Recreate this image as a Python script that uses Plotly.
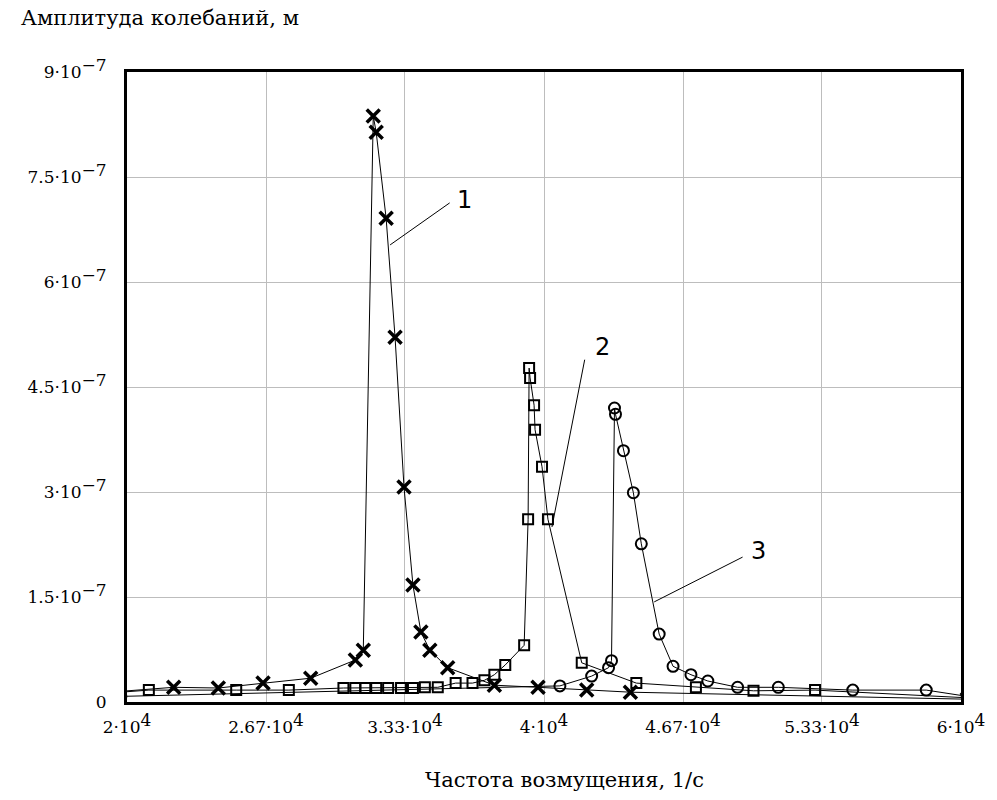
import plotly.graph_objects as go

# Frequency, 1/s, and oscillation amplitude (in units of 1e-7 m) for three cases
freq_1 = [19600, 22238, 24381, 26524, 28810, 30952, 31333, 31810, 31952, 32429, 32857,
          33286, 33714, 34095, 34524, 35381, 37619, 39714, 42048, 44143, 60300]
amp_1 = [0.15, 0.21, 0.20, 0.27, 0.34, 0.60, 0.74, 8.37, 8.14, 6.91, 5.21,
         3.07, 1.67, 1.00, 0.74, 0.49, 0.24, 0.21, 0.17, 0.14, 0.04]

freq_2 = [19700, 21048, 25238, 27762, 30381, 30952, 31429, 31952, 32524, 33143, 33714,
          34286, 34905, 35762, 36571, 37143, 37619, 38143, 39048, 39238, 39286, 39333,
          39524, 39571, 39905, 40190, 41810, 44429, 47286, 50048, 53000, 60300]
amp_2 = [0.14, 0.17, 0.17, 0.17, 0.20, 0.20, 0.20, 0.20, 0.20, 0.20, 0.20,
         0.21, 0.21, 0.27, 0.27, 0.31, 0.39, 0.53, 0.81, 2.61, 4.77, 4.63,
         4.24, 3.89, 3.36, 2.61, 0.56, 0.27, 0.21, 0.16, 0.17, 0.06]

freq_3 = [19700, 40762, 42286, 43095, 43238, 43381, 43429, 43810,
          44286, 44667, 45524, 46190, 47048, 47857, 49286, 51238, 54810, 58333, 60300]
amp_3 = [0.08, 0.23, 0.37, 0.49, 0.59, 4.20, 4.11, 3.59,
         2.99, 2.26, 0.97, 0.51, 0.39, 0.30, 0.21, 0.21, 0.17, 0.17, 0.08]

# Curve labels and their leader lines (frequency, amplitude in 1e-7 m)
label_text = ["1", "2", "3"]
label_freq = [36190, 42810, 50286]
label_amp = [7.17, 5.07, 2.16]
leader_freq = [[35476, 32619], [41952, 40381], [49524, 45286]]
leader_amp = [[7.13, 6.53], [4.89, 2.50], [2.07, 1.43]]

# Axis ticks: mantissa and power of ten for each label
x_ticks = [20000, 26667, 33333, 40000, 46667, 53333, 60000]
x_mant = ["2", "2.67", "3.33", "4", "4.67", "5.33", "6"]
x_pow = ["4"] * 7
y_ticks = [0, 1.5, 3, 4.5, 6, 7.5, 9]
y_mant = ["0", "1.5", "3", "4.5", "6", "7.5", "9"]
y_pow = [None, "−7", "−7", "−7", "−7", "−7", "−7"]

SCALE = 1e-7
FONT = "DejaVu Serif"
TICK_SIZE = 17


def sci_label(m, p):
    if p is None:
        return m
    return f'{m}·10<sup><span style="font-size:{TICK_SIZE}px">{p}</span></sup>'


x_tick_text = [sci_label(m, p) for m, p in zip(x_mant, x_pow)]
y_tick_text = [sci_label(m, p) for m, p in zip(y_mant, y_pow)]

fig = go.Figure()

series = [
    (freq_1, amp_1, dict(symbol="x-thin", size=13, line=dict(width=3.5, color="black"))),
    (freq_2, amp_2, dict(symbol="square-open", size=10, line=dict(width=2, color="black"))),
    (freq_3, amp_3, dict(symbol="circle-open", size=11, line=dict(width=2, color="black"))),
]
for fx, ay, mk in series:
    fig.add_trace(go.Scatter(
        x=fx, y=[a * SCALE for a in ay], mode="lines+markers",
        line=dict(color="black", width=1), marker=dict(color="black", **mk),
        showlegend=False, cliponaxis=True,
    ))

for lf, la in zip(leader_freq, leader_amp):
    fig.add_trace(go.Scatter(
        x=lf, y=[a * SCALE for a in la], mode="lines",
        line=dict(color="black", width=1), showlegend=False,
    ))

for t, lf, la in zip(label_text, label_freq, label_amp):
    fig.add_annotation(x=lf, y=la * SCALE, text=t, showarrow=False,
                       font=dict(family="DejaVu Sans", size=24, color="black"))

fig.add_annotation(xref="paper", yref="paper", x=-0.13, y=1.086, xanchor="left",
                   yanchor="middle", text="Амплитуда колебаний, м", showarrow=False,
                   font=dict(family=FONT, size=21, color="black"))
fig.add_annotation(xref="paper", yref="paper", x=0.524, y=-0.124, xanchor="center",
                   yanchor="middle", text="Частота возмущения, 1/с", showarrow=False,
                   font=dict(family=FONT, size=21, color="black"))

fig.update_xaxes(range=[20000, 60000], tickvals=x_ticks, ticktext=x_tick_text,
                 showgrid=True, gridcolor="#bdbdbd", gridwidth=1,
                 showline=True, linecolor="black", linewidth=3, mirror=True,
                 ticks="", zeroline=False, ticklabelstandoff=8,
                 tickfont=dict(family=FONT, size=TICK_SIZE, color="black"))
fig.update_yaxes(range=[0, 9 * SCALE], tickvals=[v * SCALE for v in y_ticks], ticktext=y_tick_text,
                 showgrid=True, gridcolor="#bdbdbd", gridwidth=1,
                 showline=True, linecolor="black", linewidth=3, mirror=True,
                 ticks="", zeroline=False, ticklabelstandoff=14,
                 tickfont=dict(family=FONT, size=TICK_SIZE, color="black"))

fig.update_layout(width=997, height=800, margin=dict(l=127, r=30, t=72, b=98),
                  plot_bgcolor="white", paper_bgcolor="white")

fig.write_html("out.html")
